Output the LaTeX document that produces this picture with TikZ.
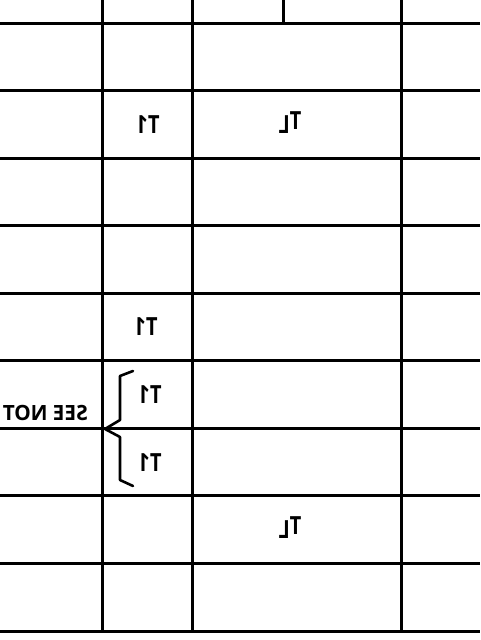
\documentclass[tikz,border=0pt]{standalone}
\usepackage{fontspec}
\setmainfont{Open Sans}
\begin{document}
\begin{tikzpicture}[x=1pt,y=-1pt,
  grid/.style={line width=3pt},
  mirr/.style={xscale=-0.8, inner sep=0pt, font=\fontsize{25}{25}\selectfont\bfseries},
  note/.style={xscale=-0.99, inner sep=0pt, font=\fontsize{21}{21}\selectfont\bfseries},
  brace/.style={line width=2.6pt, line cap=round, line join=round}]
\useasboundingbox (0,0) rectangle (480,640);
% horizontal rules
\foreach \y in {23,90.5,158,225.5,293,360.5,428,495.5,563,631}
  \draw[grid] (0,\y) -- (480,\y);
% vertical rules
\foreach \x in {102,192,401}
  \draw[grid] (\x,0) -- (\x,631);
\draw[grid] (283,0) -- (283,23);
% texts
\node[mirr] (t1a) at (148,125) {T1};
\node[mirr] (tla) at (290,123) {T\raisebox{-4pt}{L}};
\node[mirr] (t1b) at (146,327) {T1};
\node[mirr] (t1c) at (150,395) {T1};
\node[mirr] (t1d) at (150,463) {T1};
\node[mirr] (tlb) at (290,528) {T\raisebox{-4pt}{L}};
\node[note, anchor=west] (see) at (88,413) {SEE NOT};
% brace
\coordinate (btop) at (133,371);
\coordinate (bbot) at (133,486);
\coordinate (btip) at (105,429);
\draw[brace] (btop) -- (120,376) -- (120,420) -- (btip) -- (120,437) -- (120,480) -- (bbot);
\end{tikzpicture}
\end{document}
